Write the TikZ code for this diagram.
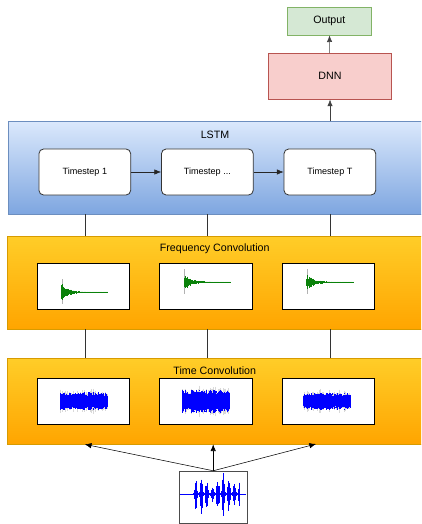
\documentclass[tikz,border=0pt]{standalone}
\usepackage{fontspec}
\setmainfont{Liberation Sans}
\usetikzlibrary{arrows.meta}
\definecolor{lstmTop}{HTML}{DAE8FC}
\definecolor{lstmBottom}{HTML}{7EA6E0}
\definecolor{lstmLine}{HTML}{6C8EBF}
\definecolor{convTop}{HTML}{FFCD28}
\definecolor{convBottom}{HTML}{FFA500}
\definecolor{convLine}{HTML}{D79B00}
\definecolor{dnnFill}{HTML}{F8CECC}
\definecolor{dnnLine}{HTML}{B85450}
\definecolor{outFill}{HTML}{D5E8D4}
\definecolor{outLine}{HTML}{82B366}
\definecolor{waveGreen}{RGB}{10,130,10}
\definecolor{waveBlue}{RGB}{0,0,255}
\tikzset{%
  >={Latex[width=4pt,length=5pt]},
  % Specifications for style of nodes:
          base/.style = {rectangle, draw=black!75, inner sep=0pt,
                         text centered, font=\fontsize{8}{9.6}\selectfont},
     lstmLayer/.style = {base, draw=lstmLine, minimum width=310.5pt,
                         minimum height=69.2pt,
                         top color=lstmTop, bottom color=lstmBottom},
     convLayer/.style = {base, draw=convLine, minimum width=311pt,
                         top color=convTop, bottom color=convBottom},
      timestep/.style = {base, draw=black!80, line width=0.6pt,
                         rounded corners=3.5pt, fill=white,
                         minimum width=68.8pt, minimum height=34.5pt,
                         font=\fontsize{6.8}{8}\selectfont},
        imgBox/.style = {base, draw=black, line width=0.9pt, fill=white,
                         minimum width=69.3pt, minimum height=34.5pt},
      inputBox/.style = {base, draw=black!70, line width=0.8pt, fill=white,
                         minimum width=50.8pt, minimum height=39pt},
        dnnBox/.style = {base, draw=dnnLine, fill=dnnFill,
                         minimum width=92pt, minimum height=34.5pt},
     outputBox/.style = {base, draw=outLine, fill=outFill,
                         minimum width=63pt, minimum height=20.8pt},
     layerName/.style = {anchor=center, yshift=-9.8pt,
                         font=\fontsize{8}{9.6}\selectfont},
}
% waveforms drawn round the origin of a shifted scope
\newcommand{\decayWave}{%
  \draw[black!30, line width=0.25pt] (-21.5,-13) -- (-21.5,12);
  \foreach \i in {0,...,84}{
    \pgfmathsetmacro{\xx}{-22+\i*0.55}
    \pgfmathsetmacro{\aa}{0.35+8.5*exp(-\i/13)*(0.35+0.65*rnd)}
    \draw[waveGreen, line width=0.35pt] (\xx,-\aa) -- (\xx,\aa);
  }}
\newcommand{\noiseWave}[1]{%
  \foreach \i in {0,...,94}{
    \pgfmathsetmacro{\xx}{-23.5+\i*0.5}
    \pgfmathsetmacro{\aa}{#1*(0.6+0.4*rnd)}
    \pgfmathsetmacro{\bb}{\aa*(1+0.5*rnd^3)}
    \draw[black!15, line width=0.2pt] (\xx,-\bb) -- (\xx,\bb);
    \draw[waveBlue, line width=0.35pt] (\xx,-\aa) -- (\xx,\aa);
  }}
\newcommand{\speechWave}{%
  \draw[waveBlue, line width=0.5pt] (-33,0) -- (33,0);
  \foreach \i in {0,...,92}{
    \pgfmathsetmacro{\xx}{-20+\i*0.5}
    \pgfmathsetmacro{\aa}{0.6+24*(abs(sin(\i*16.4)))^3*(0.45+0.55*abs(sin(\i*4.1+30)))*(0.4+0.6*rnd)}
    \pgfmathsetmacro{\bb}{\aa*(0.6+0.5*rnd)}
    \draw[waveBlue, line width=0.35pt] (\xx,-\bb) -- (\xx,\aa);
  }}

\begin{document}
\begin{tikzpicture}[x=0.75pt, y=-0.75pt, node distance=91.9pt]
  \useasboundingbox (0,0) rectangle (421,524);
  \clip (0,0) rectangle (421,524);
  \pgfmathsetseed{11}
  % Specification of nodes (position, etc.)
    \node (lstm)     [lstmLayer, label={[layerName]north:LSTM}] at (215,167.9) {};
    \node (freqConv) [convLayer, minimum height=69.75pt,
                      label={[layerName]north:Frequency Convolution}] at (214.7,282.5) {};
    \node (timeConv) [convLayer, minimum height=64.3pt,
                      label={[layerName]north:Time Convolution}] at (214.7,401.2) {};
    \node (ts1)      [timestep] at (84.8,172) {Timestep 1};
    \node (tsDots)   [timestep, right of=ts1]    {Timestep ...};
    \node (tsT)      [timestep, right of=tsDots] {Timestep T};
    \node (dnn)      [dnnBox] at (330,76.3) {DNN};
    \node (output)   [outputBox] at (329.3,21.2) {Output};
    \node (freqImg1) [imgBox] at (83.5,286.3) {};
    \node (freqImg2) [imgBox, right of=freqImg1] {};
    \node (freqImg3) [imgBox, right of=freqImg2] {};
    \node (timeImg1) [imgBox] at (83.5,401.3) {};
    \node (timeImg2) [imgBox, right of=timeImg1] {};
    \node (timeImg3) [imgBox, right of=timeImg2] {};
    \node (input)    [inputBox] at (213.2,497.3) {};
    \coordinate (inRight) at (316,444);
  % waveforms inside the picture boxes
    \begin{scope}[shift={(freqImg1.center)}, yshift=-4.5pt] \decayWave \end{scope}
    \begin{scope}[shift={(freqImg2.center)}, yshift=3pt] \decayWave \end{scope}
    \begin{scope}[shift={(freqImg3.center)}, yshift=3pt] \decayWave \end{scope}
    \begin{scope}[shift={(timeImg1.center)}] \noiseWave{9} \end{scope}
    \begin{scope}[shift={(timeImg2.center)}] \noiseWave{11.5} \end{scope}
    \begin{scope}[shift={(timeImg3.center)}, xshift=-1.5pt] \noiseWave{8.5} \end{scope}
    \begin{scope}[shift={(input.center)}, yshift=2.5pt] \speechWave \end{scope}
  % Specification of lines between nodes specified above
    \draw[->, black!85]     (ts1) -- (tsDots);
    \draw[->, black!85]     (tsDots) -- (tsT);
    \draw[->, black!75]     (lstm.north -| dnn) -- (dnn);
    \draw[->, black!75]     (dnn) -- (output);
    \draw[black!80]         (lstm.south -| ts1) -- (freqConv.north -| ts1);
    \draw[black!80]         (lstm.south -| tsDots) -- (freqConv.north -| tsDots);
    \draw[black!80]         (lstm.south -| tsT) -- (freqConv.north -| tsT);
    \draw[black!80]         (freqConv.south -| ts1) -- (timeConv.north -| ts1);
    \draw[black!80]         (freqConv.south -| tsDots) -- (timeConv.north -| tsDots);
    \draw[black!80]         (freqConv.south -| tsT) -- (timeConv.north -| tsT);
    \draw[->]               (input.north) -- (timeConv.south -| ts1);
    \draw[->]               (input.north) -- (timeConv.south -| input);
    \draw[->]               (input.north) -- (inRight);
\end{tikzpicture}
\end{document}
